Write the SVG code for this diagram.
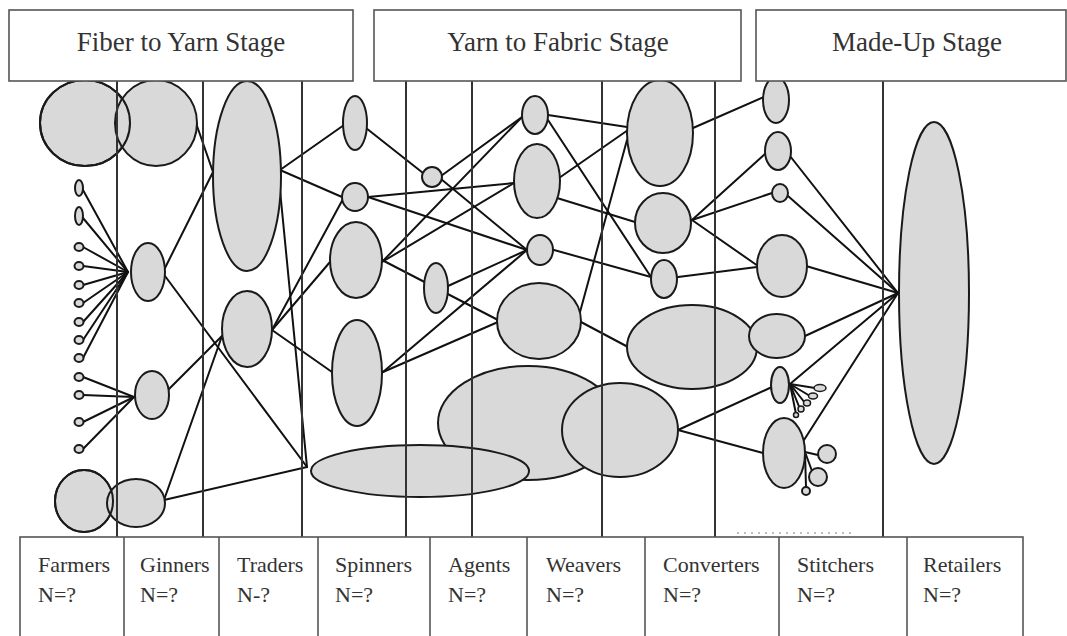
<svg xmlns="http://www.w3.org/2000/svg" width="1067" height="636" viewBox="0 0 1067 636">
<style>
.n{fill:#d9d9d9;stroke:#1a1a1a;stroke-width:2}
.o{fill:none;stroke:#1a1a1a;stroke-width:2}
.c line{stroke:#111;stroke-width:2;stroke-linecap:round}
.v line{stroke:#333;stroke-width:2}
.box{fill:#fff;stroke:#555;stroke-width:1.6}
.h{font-family:"Liberation Serif","Times New Roman",serif;font-size:27px;fill:#333;text-anchor:middle}
.l{font-family:"Liberation Serif","Times New Roman",serif;font-size:22px;fill:#333}
</style>
<rect width="1067" height="636" fill="#fff"/>
<g id="connectors" class="c">
<line x1="83" y1="190" x2="128" y2="272"/>
<line x1="83" y1="218" x2="128" y2="272"/>
<line x1="83" y1="247" x2="128" y2="272"/>
<line x1="83" y1="266" x2="128" y2="272"/>
<line x1="83" y1="285" x2="128" y2="272"/>
<line x1="83" y1="303" x2="128" y2="272"/>
<line x1="83" y1="322" x2="128" y2="272"/>
<line x1="83" y1="340" x2="128" y2="272"/>
<line x1="83" y1="358" x2="128" y2="272"/>
<line x1="83" y1="377" x2="134" y2="397"/>
<line x1="83" y1="395" x2="134" y2="397"/>
<line x1="83" y1="422" x2="134" y2="397"/>
<line x1="83" y1="449" x2="134" y2="397"/>
<line x1="196" y1="123" x2="213" y2="172"/>
<line x1="165" y1="268" x2="213" y2="172"/>
<line x1="165" y1="276" x2="307" y2="467"/>
<line x1="168" y1="390" x2="222" y2="336"/>
<line x1="164" y1="500" x2="222" y2="336"/>
<line x1="164" y1="500" x2="307" y2="467"/>
<line x1="280" y1="170" x2="344" y2="125"/>
<line x1="280" y1="170" x2="342" y2="197"/>
<line x1="280" y1="190" x2="307" y2="467"/>
<line x1="272" y1="330" x2="343" y2="199"/>
<line x1="272" y1="330" x2="330" y2="262"/>
<line x1="272" y1="330" x2="332" y2="372"/>
<line x1="366" y1="128" x2="423" y2="173"/>
<line x1="368" y1="197" x2="514" y2="183"/>
<line x1="368" y1="197" x2="527" y2="250"/>
<line x1="382" y1="262" x2="522" y2="117"/>
<line x1="382" y1="262" x2="514" y2="183"/>
<line x1="382" y1="260" x2="498" y2="320"/>
<line x1="441" y1="176" x2="522" y2="117"/>
<line x1="441" y1="179" x2="527" y2="250"/>
<line x1="448" y1="286" x2="527" y2="250"/>
<line x1="383" y1="372" x2="527" y2="250"/>
<line x1="383" y1="372" x2="498" y2="322"/>
<line x1="548" y1="115" x2="627" y2="127"/>
<line x1="548" y1="120" x2="651" y2="277"/>
<line x1="559" y1="178" x2="628" y2="130"/>
<line x1="557" y1="198" x2="635" y2="222"/>
<line x1="580" y1="312" x2="627" y2="140"/>
<line x1="554" y1="250" x2="651" y2="277"/>
<line x1="581" y1="322" x2="628" y2="347"/>
<line x1="693" y1="128" x2="764" y2="97"/>
<line x1="692" y1="220" x2="766" y2="153"/>
<line x1="692" y1="220" x2="772" y2="193"/>
<line x1="692" y1="220" x2="758" y2="266"/>
<line x1="678" y1="277" x2="757" y2="267"/>
<line x1="678" y1="430" x2="772" y2="387"/>
<line x1="678" y1="430" x2="763" y2="453"/>
<line x1="790" y1="156" x2="898" y2="293"/>
<line x1="788" y1="196" x2="898" y2="293"/>
<line x1="806" y1="266" x2="898" y2="293"/>
<line x1="805" y1="336" x2="898" y2="293"/>
<line x1="790" y1="384" x2="898" y2="293"/>
<line x1="804" y1="440" x2="898" y2="293"/>
<line x1="790" y1="384" x2="815" y2="388"/>
<line x1="790" y1="384" x2="810" y2="396"/>
<line x1="790" y1="384" x2="805" y2="403"/>
<line x1="790" y1="384" x2="800" y2="409"/>
<line x1="790" y1="384" x2="796" y2="414"/>
<line x1="805" y1="452" x2="818" y2="455"/>
<line x1="805" y1="452" x2="812" y2="471"/>
<line x1="805" y1="452" x2="806" y2="487"/>
</g>
<g id="farmers">
<g id="farmer-big-top"><ellipse class="n" cx="85" cy="123" rx="45" ry="43"/></g>
<g id="farmer-1"><ellipse class="n" cx="79" cy="188" rx="4" ry="8"/></g>
<g id="farmer-2"><ellipse class="n" cx="79" cy="216" rx="4" ry="9"/></g>
<g id="farmer-3"><ellipse class="n" cx="79" cy="247" rx="4.5" ry="4"/></g>
<g id="farmer-4"><ellipse class="n" cx="79" cy="266" rx="4.5" ry="4"/></g>
<g id="farmer-5"><ellipse class="n" cx="79" cy="285" rx="4.5" ry="4"/></g>
<g id="farmer-6"><ellipse class="n" cx="79" cy="303" rx="4.5" ry="4"/></g>
<g id="farmer-7"><ellipse class="n" cx="79" cy="322" rx="4.5" ry="4"/></g>
<g id="farmer-8"><ellipse class="n" cx="79" cy="340" rx="4.5" ry="4"/></g>
<g id="farmer-9"><ellipse class="n" cx="79" cy="358" rx="4.5" ry="4"/></g>
<g id="farmer-10"><ellipse class="n" cx="79" cy="377" rx="4.5" ry="4"/></g>
<g id="farmer-11"><ellipse class="n" cx="79" cy="395" rx="4.5" ry="4"/></g>
<g id="farmer-12"><ellipse class="n" cx="79" cy="422" rx="4.5" ry="4"/></g>
<g id="farmer-13"><ellipse class="n" cx="79" cy="449" rx="4.5" ry="4"/></g>
<g id="farmer-big-bottom"><ellipse class="n" cx="84" cy="501" rx="29" ry="31"/></g>
</g>
<g id="ginners">
<g id="ginner-big-top"><ellipse class="n" cx="156" cy="123" rx="41" ry="43"/></g>
<g id="ginner-1"><ellipse class="n" cx="148" cy="272" rx="17" ry="29"/></g>
<g id="ginner-2"><ellipse class="n" cx="152" cy="395" rx="17" ry="24"/></g>
<g id="ginner-bottom"><ellipse class="n" cx="136" cy="503" rx="29" ry="24"/></g>
</g>
<ellipse class="o" cx="85" cy="123" rx="45" ry="43"/>
<ellipse class="o" cx="84" cy="501" rx="29" ry="31"/>
<g id="traders">
<g id="trader-1"><ellipse class="n" cx="247" cy="176" rx="34" ry="95"/></g>
<g id="trader-2"><ellipse class="n" cx="247" cy="329" rx="25" ry="38"/></g>
</g>
<g id="weaver-big"><ellipse class="n" cx="528" cy="423" rx="90" ry="57"/></g>
<g id="spinners">
<g id="spinner-1"><ellipse class="n" cx="355" cy="123" rx="12" ry="27"/></g>
<g id="spinner-2"><ellipse class="n" cx="355" cy="197" rx="13" ry="14"/></g>
<g id="spinner-3"><ellipse class="n" cx="356" cy="260" rx="26" ry="38"/></g>
<g id="spinner-4"><ellipse class="n" cx="357" cy="373" rx="25" ry="53"/></g>
<g id="spinner-5"><ellipse class="n" cx="420" cy="471" rx="109" ry="26"/></g>
</g>
<g id="agents">
<g id="agent-1"><ellipse class="n" cx="432" cy="177" rx="10" ry="10"/></g>
<g id="agent-2"><ellipse class="n" cx="436" cy="288" rx="12" ry="25"/></g>
</g>
<g id="weavers">
<g id="weaver-1"><ellipse class="n" cx="535" cy="115" rx="13" ry="19"/></g>
<g id="weaver-2"><ellipse class="n" cx="537" cy="181" rx="23" ry="37"/></g>
<g id="weaver-3"><ellipse class="n" cx="540" cy="250" rx="13" ry="15"/></g>
<g id="weaver-4"><ellipse class="n" cx="539" cy="321" rx="42" ry="38"/></g>
</g>
<g id="converters">
<g id="converter-1"><ellipse class="n" cx="660" cy="133" rx="33" ry="53"/></g>
<g id="converter-2"><ellipse class="n" cx="663" cy="223" rx="28" ry="30"/></g>
<g id="converter-3"><ellipse class="n" cx="664" cy="279" rx="13" ry="19"/></g>
<g id="converter-4"><ellipse class="n" cx="692" cy="347" rx="65" ry="42"/></g>
<g id="converter-5"><ellipse class="n" cx="620" cy="430" rx="58" ry="47"/></g>
</g>
<g id="stitchers">
<g id="stitcher-1"><ellipse class="n" cx="776" cy="100" rx="13" ry="23"/></g>
<g id="stitcher-2"><ellipse class="n" cx="778" cy="151" rx="13" ry="19"/></g>
<g id="stitcher-3"><ellipse class="n" cx="780" cy="193" rx="8" ry="9"/></g>
<g id="stitcher-4"><ellipse class="n" cx="782" cy="266" rx="25" ry="31"/></g>
<g id="stitcher-5"><ellipse class="n" cx="777" cy="336" rx="28" ry="22"/></g>
<g id="stitcher-6"><ellipse class="n" cx="780" cy="385" rx="9" ry="18"/></g>
<g id="stitcher-6-fan">
<ellipse class="n" cx="820" cy="388" rx="6" ry="3.5" style="stroke-width:1.5"/>
<ellipse class="n" cx="813" cy="396" rx="4.5" ry="3" style="stroke-width:1.5"/>
<ellipse class="n" cx="807" cy="403" rx="3.5" ry="3" style="stroke-width:1.5"/>
<ellipse class="n" cx="801" cy="409" rx="3" ry="3" style="stroke-width:1.5"/>
<ellipse class="n" cx="796" cy="415" rx="2.5" ry="2.5" style="stroke-width:1.5"/>
</g>
<g id="stitcher-7"><ellipse class="n" cx="784" cy="453" rx="21" ry="35"/></g>
<g id="stitcher-7a"><ellipse class="n" cx="827" cy="454" rx="9" ry="9"/></g>
<g id="stitcher-7b"><ellipse class="n" cx="818" cy="477" rx="9" ry="9"/></g>
<g id="stitcher-7c"><ellipse class="n" cx="806" cy="491" rx="4" ry="4"/></g>
</g>
<g id="retailers">
<g id="retailer-1"><ellipse class="n" cx="934" cy="293" rx="35" ry="171"/></g>
</g>
<g id="dividers" class="v">
<line x1="117" y1="81" x2="117" y2="537"/>
<line x1="203" y1="81" x2="203" y2="537"/>
<line x1="302" y1="81" x2="302" y2="537"/>
<line x1="406" y1="81" x2="406" y2="537"/>
<line x1="472" y1="81" x2="472" y2="537"/>
<line x1="602" y1="81" x2="602" y2="537"/>
<line x1="715" y1="81" x2="715" y2="537"/>
<line x1="883" y1="81" x2="883" y2="537"/>
</g>
<line x1="737" y1="533" x2="853" y2="533" stroke="#aaa" stroke-width="1.5" stroke-dasharray="2 5"/>
<g id="stage-fiber-yarn">
<rect class="box" x="9" y="10" width="344" height="71"/>
<text class="h" x="181" y="51">Fiber to Yarn Stage</text>
</g>
<g id="stage-yarn-fabric">
<rect class="box" x="374" y="10" width="367" height="71"/>
<text class="h" x="558" y="51">Yarn to Fabric Stage</text>
</g>
<g id="stage-made-up">
<rect class="box" x="756" y="10" width="310" height="71"/>
<text class="h" x="917" y="51">Made-Up Stage</text>
</g>
<g id="actor-labels">
<rect class="box" x="20" y="537" width="1003" height="110"/>
<line x1="124" y1="537" x2="124" y2="636" stroke="#555" stroke-width="1.6"/>
<line x1="219" y1="537" x2="219" y2="636" stroke="#555" stroke-width="1.6"/>
<line x1="318" y1="537" x2="318" y2="636" stroke="#555" stroke-width="1.6"/>
<line x1="430" y1="537" x2="430" y2="636" stroke="#555" stroke-width="1.6"/>
<line x1="527" y1="537" x2="527" y2="636" stroke="#555" stroke-width="1.6"/>
<line x1="645" y1="537" x2="645" y2="636" stroke="#555" stroke-width="1.6"/>
<line x1="779" y1="537" x2="779" y2="636" stroke="#555" stroke-width="1.6"/>
<line x1="907" y1="537" x2="907" y2="636" stroke="#555" stroke-width="1.6"/>
<text class="l" x="38" y="572">Farmers</text><text class="l" x="38" y="602">N=?</text>
<text class="l" x="140" y="572">Ginners</text><text class="l" x="140" y="602">N=?</text>
<text class="l" x="237" y="572">Traders</text><text class="l" x="237" y="602">N-?</text>
<text class="l" x="335" y="572">Spinners</text><text class="l" x="335" y="602">N=?</text>
<text class="l" x="448" y="572">Agents</text><text class="l" x="448" y="602">N=?</text>
<text class="l" x="546" y="572">Weavers</text><text class="l" x="546" y="602">N=?</text>
<text class="l" x="663" y="572">Converters</text><text class="l" x="663" y="602">N=?</text>
<text class="l" x="797" y="572">Stitchers</text><text class="l" x="797" y="602">N=?</text>
<text class="l" x="923" y="572">Retailers</text><text class="l" x="923" y="602">N=?</text>
</g>
</svg>
